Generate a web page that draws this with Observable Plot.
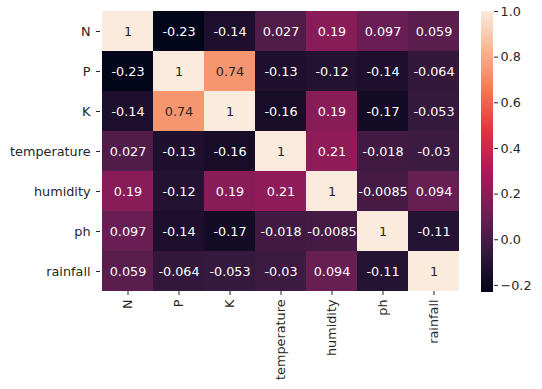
<!DOCTYPE html>
<html>
<head>
<meta charset="utf-8">
<script src="https://cdn.jsdelivr.net/npm/d3@7"></script>
<script src="https://cdn.jsdelivr.net/npm/@observablehq/plot@0.6"></script>
<style>
  html, body { margin: 0; padding: 0; background: #fff; }
  #wrap { position: relative; width: 542px; height: 389px; font-family: "DejaVu Sans", sans-serif; }
  #wrap svg { position: absolute; top: 0; }
</style>
</head>
<body>
<div id="wrap"></div>
<script>
const labels = ["N", "P", "K", "temperature", "humidity", "ph", "rainfall"];
const rowN = [1, -0.23, -0.14, 0.027, 0.19, 0.097, 0.059];
const rowP = [-0.23, 1, 0.74, -0.13, -0.12, -0.14, -0.064];
const rowK = [-0.14, 0.74, 1, -0.16, 0.19, -0.17, -0.053];
const rowTemperature = [0.027, -0.13, -0.16, 1, 0.21, -0.018, -0.03];
const rowHumidity = [0.19, -0.12, 0.19, 0.21, 1, -0.0085, 0.094];
const rowPh = [0.097, -0.14, -0.17, -0.018, -0.0085, 1, -0.11];
const rowRainfall = [0.059, -0.064, -0.053, -0.03, 0.094, -0.11, 1];
const colorbarTicks = [-0.2, 0.0, 0.2, 0.4, 0.6, 0.8, 1.0];

const rows = [rowN, rowP, rowK, rowTemperature, rowHumidity, rowPh, rowRainfall];
const cells = [];
rows.forEach((r, i) => r.forEach((v, j) => cells.push({row: labels[i], col: labels[j], value: v})));

const vmin = -0.2311, vmax = 1;
const rocket = ["#03051a", "#35193e", "#701f57", "#ad1759", "#e13342", "#f37651", "#f6b48f", "#faebdd"];
const colorOpts = {type: "linear", domain: [vmin, vmax], interpolate: d3.piecewise(d3.interpolateRgb, rocket)};

const fontSize = "12.8px";
const wrap = document.getElementById("wrap");

const main = Plot.plot({
  width: 542,
  height: 389,
  marginLeft: 100,
  marginRight: 82,
  marginTop: 11,
  marginBottom: 98,
  style: {fontFamily: "DejaVu Sans, sans-serif", fontSize: fontSize, color: "#262626", background: "transparent"},
  x: {domain: labels, padding: 0, label: null},
  y: {domain: labels, padding: 0, label: null},
  color: colorOpts,
  marks: [
    Plot.cell(cells, {x: "col", y: "row", fill: "value"}),
    Plot.text(cells, {
      x: "col", y: "row",
      text: d => String(d.value),
      fill: d => d.value > 0.5 ? "#262626" : "#ffffff",
      fontSize: 12.8
    }),
    Plot.axisX({tickRotate: -90, tickSize: 4, tickPadding: 4, fontSize: 12.8}),
    Plot.axisY({tickSize: 4, tickPadding: 6, fontSize: 12.8})
  ]
});
main.style.left = "0px";
wrap.appendChild(main);

const bar = Plot.plot({
  width: 61,
  height: 389,
  marginLeft: 0,
  marginRight: 49,
  marginTop: 11,
  marginBottom: 97,
  style: {fontFamily: "DejaVu Sans, sans-serif", fontSize: fontSize, color: "#262626", background: "transparent"},
  x: {domain: [0, 1], axis: null},
  y: {domain: [vmin, vmax], axis: null},
  marks: [
    Plot.rect([{y1: vmin, y2: vmax}], {x1: 0, x2: 1, y1: "y1", y2: "y2", fill: "url(#rocketGrad)"}),
    Plot.axisY({anchor: "right", ticks: colorbarTicks, tickFormat: d3.format(".1f"), tickSize: 4, tickPadding: 3, label: null, fontSize: 12.8})
  ]
});
const grad = d3.select(bar).insert("defs", ":first-child")
  .append("linearGradient").attr("id", "rocketGrad")
  .attr("x1", 0).attr("y1", 1).attr("x2", 0).attr("y2", 0);
rocket.forEach((c, i) => grad.append("stop").attr("offset", i / (rocket.length - 1)).attr("stop-color", c));
bar.style.left = "481px";
wrap.appendChild(bar);
</script>
</body>
</html>
